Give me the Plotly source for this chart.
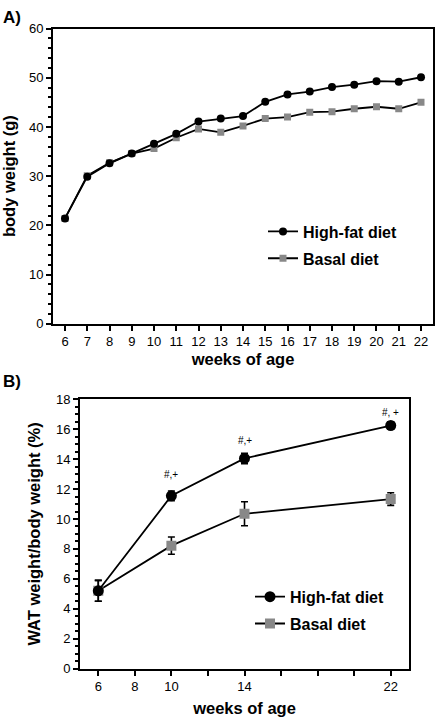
import plotly.graph_objects as go

# ---------------- Panel A data ----------------
weeks_a = [6, 7, 8, 9, 10, 11, 12, 13, 14, 15, 16, 17, 18, 19, 20, 21, 22]
hf_a = [21.4, 29.9, 32.6, 34.6, 36.6, 38.6, 41.1, 41.7, 42.2, 45.1, 46.6, 47.2, 48.1, 48.6, 49.3, 49.2, 50.1]
basal_a = [21.4, 30.1, 32.7, 34.6, 35.6, 37.8, 39.6, 38.9, 40.2, 41.7, 42.0, 43.0, 43.1, 43.7, 44.1, 43.7, 45.0]

# ---------------- Panel B data ----------------
weeks_b = [6, 10, 14, 22]
hf_b = [5.2, 11.55, 14.05, 16.25]
hf_b_err = [0.7, 0.32, 0.35, 0.25]
basal_b = [5.2, 8.22, 10.35, 11.33]
basal_b_err = [0.7, 0.58, 0.8, 0.42]
sig_labels = ["#,+", "#,+", "#, +"]
sig_weeks = [10, 14, 22]
sig_y = [12.95, 15.25, 17.1]

xticks_b = [6, 8, 10, 12, 14, 16, 18, 20, 22]
xticklabels_b = ["6", "8", "10", "", "14", "", "", "", "22"]

BLACK = "#000000"
GRAY = "#888888"
FONT = "Liberation Sans, Arial, sans-serif"

fig = go.Figure()

# Panel A traces (basal drawn first so black sits on top)
fig.add_trace(go.Scatter(
    x=weeks_a, y=basal_a, mode="lines+markers", name="Basal diet",
    line=dict(color=BLACK, width=1.8),
    marker=dict(symbol="square", size=7, color=GRAY),
    xaxis="x", yaxis="y", legend="legend", legendrank=2, legendgroup="a2"))
fig.add_trace(go.Scatter(
    x=weeks_a, y=hf_a, mode="lines+markers", name="High-fat diet",
    line=dict(color=BLACK, width=1.8),
    marker=dict(symbol="circle", size=8, color=BLACK),
    xaxis="x", yaxis="y", legend="legend", legendrank=1, legendgroup="a1"))

# Panel B traces
fig.add_trace(go.Scatter(
    x=weeks_b, y=basal_b, mode="lines+markers", name="Basal diet",
    line=dict(color=BLACK, width=1.8),
    marker=dict(symbol="square", size=10, color=GRAY),
    error_y=dict(type="data", array=basal_b_err, color=BLACK, thickness=1.6, width=3.5),
    xaxis="x2", yaxis="y2", legend="legend2", legendrank=2, legendgroup="b2"))
fig.add_trace(go.Scatter(
    x=weeks_b, y=hf_b, mode="lines+markers", name="High-fat diet",
    line=dict(color=BLACK, width=1.8),
    marker=dict(symbol="circle", size=11, color=BLACK),
    error_y=dict(type="data", array=hf_b_err, color=BLACK, thickness=1.6, width=3.5),
    xaxis="x2", yaxis="y2", legend="legend2", legendrank=1, legendgroup="b1"))

W, H = 436, 718


def px_x(v):
    return v / W


def px_y(v):
    return 1 - v / H


axis_common = dict(
    showline=True, linewidth=2, linecolor=BLACK, mirror=True,
    showgrid=False, zeroline=False, ticks="outside", ticklen=5, tickwidth=1.5,
    tickcolor=BLACK, tickfont=dict(family=FONT, size=13, color=BLACK),
)

title_font = dict(family=FONT, size=16.5, color=BLACK, weight="bold")
legend_font = dict(family=FONT, size=16, color=BLACK, weight="bold")

annotations = [
    dict(text="<b>A)</b>", x=px_x(1), y=px_y(11), xref="paper", yref="paper",
         xanchor="left", yanchor="middle", showarrow=False,
         font=dict(family=FONT, size=17, color=BLACK)),
    dict(text="<b>B)</b>", x=px_x(1), y=px_y(383), xref="paper", yref="paper",
         xanchor="left", yanchor="middle", showarrow=False,
         font=dict(family=FONT, size=17, color=BLACK)),
]
for lab, wx, wy in zip(sig_labels, sig_weeks, sig_y):
    annotations.append(dict(text=lab, x=wx, y=wy, xref="x2", yref="y2",
                            showarrow=False, font=dict(family=FONT, size=10, color=BLACK)))

fig.update_layout(
    width=W, height=H, margin=dict(l=0, r=0, t=0, b=0),
    paper_bgcolor="white", plot_bgcolor="white",
    font=dict(family=FONT, color=BLACK),
    xaxis=dict(**axis_common, domain=[px_x(53), px_x(433)], range=[5.46, 22.54],
               tickvals=weeks_a, anchor="y",
               title=dict(text="weeks of age", font=title_font, standoff=5)),
    yaxis=dict(**axis_common, domain=[px_y(323.5), px_y(22)], range=[0, 60],
               tickvals=[0, 10, 20, 30, 40, 50, 60], anchor="x",
               minor=dict(dtick=2, ticks="outside", ticklen=3, tickwidth=1.5, tickcolor=BLACK),
               title=dict(text="body weight (g)", font=title_font, standoff=15)),
    xaxis2=dict(**axis_common, domain=[px_x(80), px_x(409)], range=[5, 23],
                tickvals=xticks_b, ticktext=xticklabels_b, anchor="y2",
                title=dict(text="weeks of age", font=title_font, standoff=9)),
    yaxis2=dict(**axis_common, domain=[px_y(675.7), px_y(400.7)], range=[0, 18],
                tickvals=[0, 2, 4, 6, 8, 10, 12, 14, 16, 18], anchor="x2",
                minor=dict(dtick=0.5, ticks="outside", ticklen=3, tickwidth=1.5, tickcolor=BLACK),
                title=dict(text="WAT weight/body weight (%)", font=title_font, standoff=11)),
    legend=dict(x=px_x(263), y=px_y(212), xanchor="left", yanchor="top",
                bgcolor="rgba(0,0,0,0)", font=legend_font, traceorder="grouped",
                tracegroupgap=3, itemwidth=30),
    legend2=dict(x=px_x(250), y=px_y(585), xanchor="left", yanchor="top",
                 bgcolor="rgba(0,0,0,0)", font=legend_font, traceorder="grouped",
                 tracegroupgap=3, itemwidth=30),
    annotations=annotations,
)

fig.write_html("out.html", config={"displayModeBar": False},
               post_script="document.body.style.margin='0';")
